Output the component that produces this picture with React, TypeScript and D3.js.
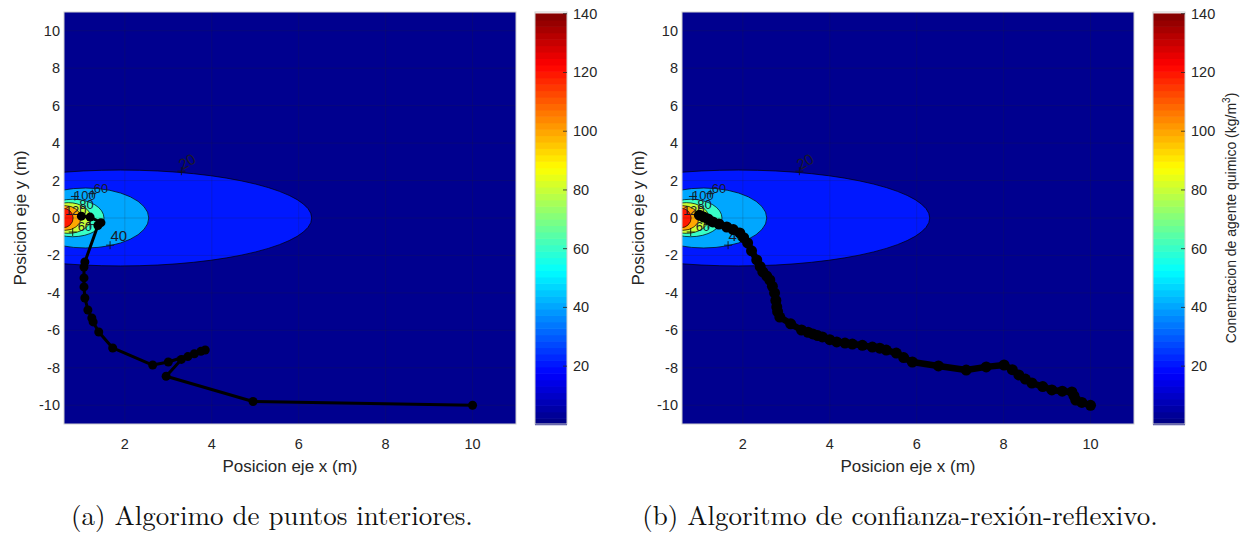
import React from 'react';
import * as d3 from 'd3';

// axis ticks
const xTicks = [2, 4, 6, 8, 10];
const yTicks = [-10, -8, -6, -4, -2, 0, 2, 4, 6, 8, 10];
const cbTicks = [20, 40, 60, 80, 100, 120, 140];

// filled contour levels, drawn as ellipses
const levels = [20, 40, 60, 80, 100, 120];
const levelCx = [1.9, 1.1, 0.8, 0.7, 0.62, 0.58];
const levelRx = [4.4, 1.45, 0.72, 0.52, 0.37, 0.23];
const levelRy = [2.56, 1.6, 1.0, 0.82, 0.66, 0.52];

// contour labels (clabel)
const labelText = ['20', '40', '60', '100', '80', '120', '60'];
const labelX = [3.45, 1.86, 1.45, 1.08, 1.12, 0.87, 1.08];
const labelY = [2.95, -1.0, 1.5, 1.17, 0.69, 0.32, -0.53];
const labelRot = [-30, 0, 0, 0, 0, 0, 0];
const plusX = [3.3, 1.66, 1.25, 0.85, 0.8, 1.2];
const plusY = [2.5, -1.45, 1.3, 1.15, -0.75, -0.35];

// (a) interior point trajectory
const pathAX = [1.0, 1.2, 1.45, 1.38, 1.08, 1.06, 1.06, 1.06, 1.08, 1.15, 1.24, 1.27, 1.4, 1.72, 2.64, 3.0, 3.85, 3.75, 3.6, 3.45, 3.3, 2.95, 4.95, 10.0];
const pathAY = [0.1, 0.05, -0.25, -0.4, -2.35, -2.62, -3.2, -3.68, -4.27, -4.91, -5.34, -5.55, -6.09, -6.94, -7.85, -7.69, -7.05, -7.12, -7.25, -7.4, -7.55, -8.45, -9.8, -10.0];

// (b) trust-region-reflective trajectory
const pathBX = [1.0, 1.1, 1.2, 1.31, 1.45, 1.63, 1.78, 1.93, 2.02, 2.11, 2.2, 2.32, 2.4, 2.46, 2.55, 2.62, 2.68, 2.73, 2.76, 2.78, 2.8, 2.85, 3.1, 3.35, 3.5, 3.61, 3.72, 3.83, 4.0, 4.16, 4.35, 4.52, 4.75, 4.98, 5.15, 5.3, 5.53, 5.7, 5.9, 6.5, 7.14, 7.6, 8.01, 8.2, 8.35, 8.5, 8.65, 8.9, 9.11, 9.35, 9.57, 9.62, 9.66, 9.8, 10.0];
const pathBY = [0.15, 0.05, -0.05, -0.21, -0.32, -0.48, -0.62, -0.8, -1.05, -1.33, -1.75, -2.24, -2.6, -2.88, -3.1, -3.31, -3.65, -4.0, -4.4, -4.75, -5.0, -5.29, -5.65, -5.98, -6.1, -6.19, -6.28, -6.35, -6.5, -6.62, -6.68, -6.73, -6.8, -6.89, -6.95, -7.05, -7.21, -7.45, -7.69, -7.9, -8.12, -7.95, -7.85, -8.1, -8.38, -8.6, -8.81, -9.0, -9.18, -9.25, -9.29, -9.5, -9.72, -9.85, -10.0];

const AX = '#262626';
const SANS = '"Liberation Sans", Arial, Helvetica, sans-serif';

function jet(t: number) {
  const c = (v: number) => Math.round(255 * Math.max(0, Math.min(1, v)));
  const r = c(Math.min(4 * t - 1.5, -4 * t + 4.5));
  const g = c(Math.min(4 * t - 0.5, -4 * t + 3.5));
  const b = c(Math.min(4 * t + 0.5, -4 * t + 2.5));
  return `rgb(${r},${g},${b})`;
}
// discrete 64-colour map like MATLAB
const jet64 = (v: number) => {
  const i = Math.min(63, Math.max(0, Math.floor((v / 140) * 64)));
  return jet((i + 0.5) / 64);
};

const Panel: React.FC<{ ox: number; id: string; px: number[]; py: number[]; cbLabel: boolean; caption: string; lw: number; mr: number; capX: number }> = ({ ox, id, px, py, cbLabel, caption, lw, mr, capX }) => {
  const left = 64, right = 516, top = 12, bottom = 424;
  const cbL = 535, cbR = 567;
  const x = d3.scaleLinear().domain([0.6, 11]).range([left, right]);
  const y = d3.scaleLinear().domain([-11, 11]).range([bottom, top]);
  const cy = d3.scaleLinear().domain([0.3, 140.6]).range([bottom, top]);

  const line = d3.line<number>().x((_, i) => x(px[i])).y((_, i) => y(py[i]));
  const bands = d3.range(64);

  return (
    <g transform={`translate(${ox},0)`}>
      <defs>
        <clipPath id={id}>
          <rect x={left} y={top} width={right - left} height={bottom - top} />
        </clipPath>
      </defs>
      <g clipPath={`url(#${id})`}>
        <rect x={left} y={top} width={right - left} height={bottom - top} fill="rgb(0,0,143)" />
        {levels.map((lv, i) => (
          <ellipse key={lv} cx={x(levelCx[i])} cy={y(0)} rx={x(levelCx[i] + levelRx[i]) - x(levelCx[i])} ry={y(0) - y(levelRy[i])}
            fill={jet64(lv)} stroke="#000" strokeWidth={0.7} />
        ))}
        {xTicks.map(t => <line key={'gx' + t} x1={x(t)} x2={x(t)} y1={top} y2={bottom} stroke="rgba(38,38,38,0.18)" />)}
        {yTicks.map(t => <line key={'gy' + t} x1={left} x2={right} y1={y(t)} y2={y(t)} stroke="rgba(38,38,38,0.18)" />)}
        {plusX.map((v, i) => (
          <path key={'p' + i} d={`M${x(v) - 4},${y(plusY[i])}h8M${x(v)},${y(plusY[i]) - 4}v8`} stroke="#111" strokeWidth={0.9} />
        ))}
        {labelText.map((t, i) => (
          <text key={'l' + i} x={x(labelX[i])} y={y(labelY[i])} fontSize={i < 2 ? 15 : 13} fontFamily={SANS} fill="#1a1a2a" textAnchor="middle" dominantBaseline="middle"
            transform={`rotate(${labelRot[i]},${x(labelX[i])},${y(labelY[i])})`}>{t}</text>
        ))}
        <path d={line(px) || ''} fill="none" stroke="#000" strokeWidth={lw} strokeLinejoin="round" strokeLinecap="round" />
        {px.map((v, i) => <circle key={'m' + i} cx={x(v)} cy={y(py[i])} r={mr} fill="#000" />)}
      </g>
      <rect x={left} y={top} width={right - left} height={bottom - top} fill="none" stroke="#d0d0d0" strokeWidth={1} />
      {/* tick labels */}
      {xTicks.map(t => (
        <text key={'xt' + t} x={x(t)} y={449} fontSize={14.5} fontFamily={SANS} fill={AX} textAnchor="middle">{t}</text>
      ))}
      {yTicks.map(t => (
        <text key={'yt' + t} x={left - 4} y={y(t) + 5} fontSize={14.5} fontFamily={SANS} fill={AX} textAnchor="end">{t}</text>
      ))}
      <text x={(left + right) / 2} y={472} fontSize={17} fontFamily={SANS} fill={AX} textAnchor="middle">Posicion eje x (m)</text>
      <text transform={`translate(26,${(top + bottom) / 2}) rotate(-90)`} fontSize={17} fontFamily={SANS} fill={AX} textAnchor="middle">Posicion eje y (m)</text>
      {/* colorbar */}
      {bands.map(b => (
        <rect key={'cb' + b} x={cbL} y={cy(((b + 1) / 64) * 140) - 0.3} width={cbR - cbL} height={cy((b / 64) * 140) - cy(((b + 1) / 64) * 140) + 0.6} fill={jet((b + 0.5) / 64)} />
      ))}
      <rect x={cbL} y={top} width={cbR - cbL} height={bottom - top} fill="none" stroke="#d0d0d0" strokeWidth={1} />
      {cbTicks.map(t => (
        <g key={'ct' + t}>
          <line x1={cbR - 4} x2={cbR} y1={cy(t)} y2={cy(t)} stroke={AX} strokeWidth={0.8} />
          <text x={cbR + 6} y={cy(t) + 5} fontSize={14.5} fontFamily={SANS} fill={AX}>{t}</text>
        </g>
      ))}
      {cbLabel && (
        <text transform={`translate(618,${(top + bottom) / 2}) rotate(-90)`} fontSize={14} fontFamily={SANS} fill={AX} textAnchor="middle">
          Conentracion de agente quimico (kg/m<tspan dy={-6} fontSize={10}>3</tspan><tspan dy={6}>)</tspan>
        </text>
      )}
      <text x={capX} y={525} fontSize={27} fontFamily='"Latin Modern Roman", "Liberation Serif", serif' fill="#111" textAnchor="middle">{caption}</text>
    </g>
  );
};

export default function App() {
  return (
    <svg width={1258} height={533} style={{ position: 'absolute', left: 0, top: 0, background: '#fff' }}>
      <Panel ox={0} id="clipA" px={pathAX} py={pathAY} cbLabel={false} caption="(a) Algorimo de puntos interiores." lw={3} mr={4.5} capX={272} />
      <Panel ox={618} id="clipB" px={pathBX} py={pathBY} cbLabel={true} caption="(b) Algoritmo de confianza-rexión-reflexivo." lw={6.5} mr={5.5} capX={282} />
    </svg>
  );
}
